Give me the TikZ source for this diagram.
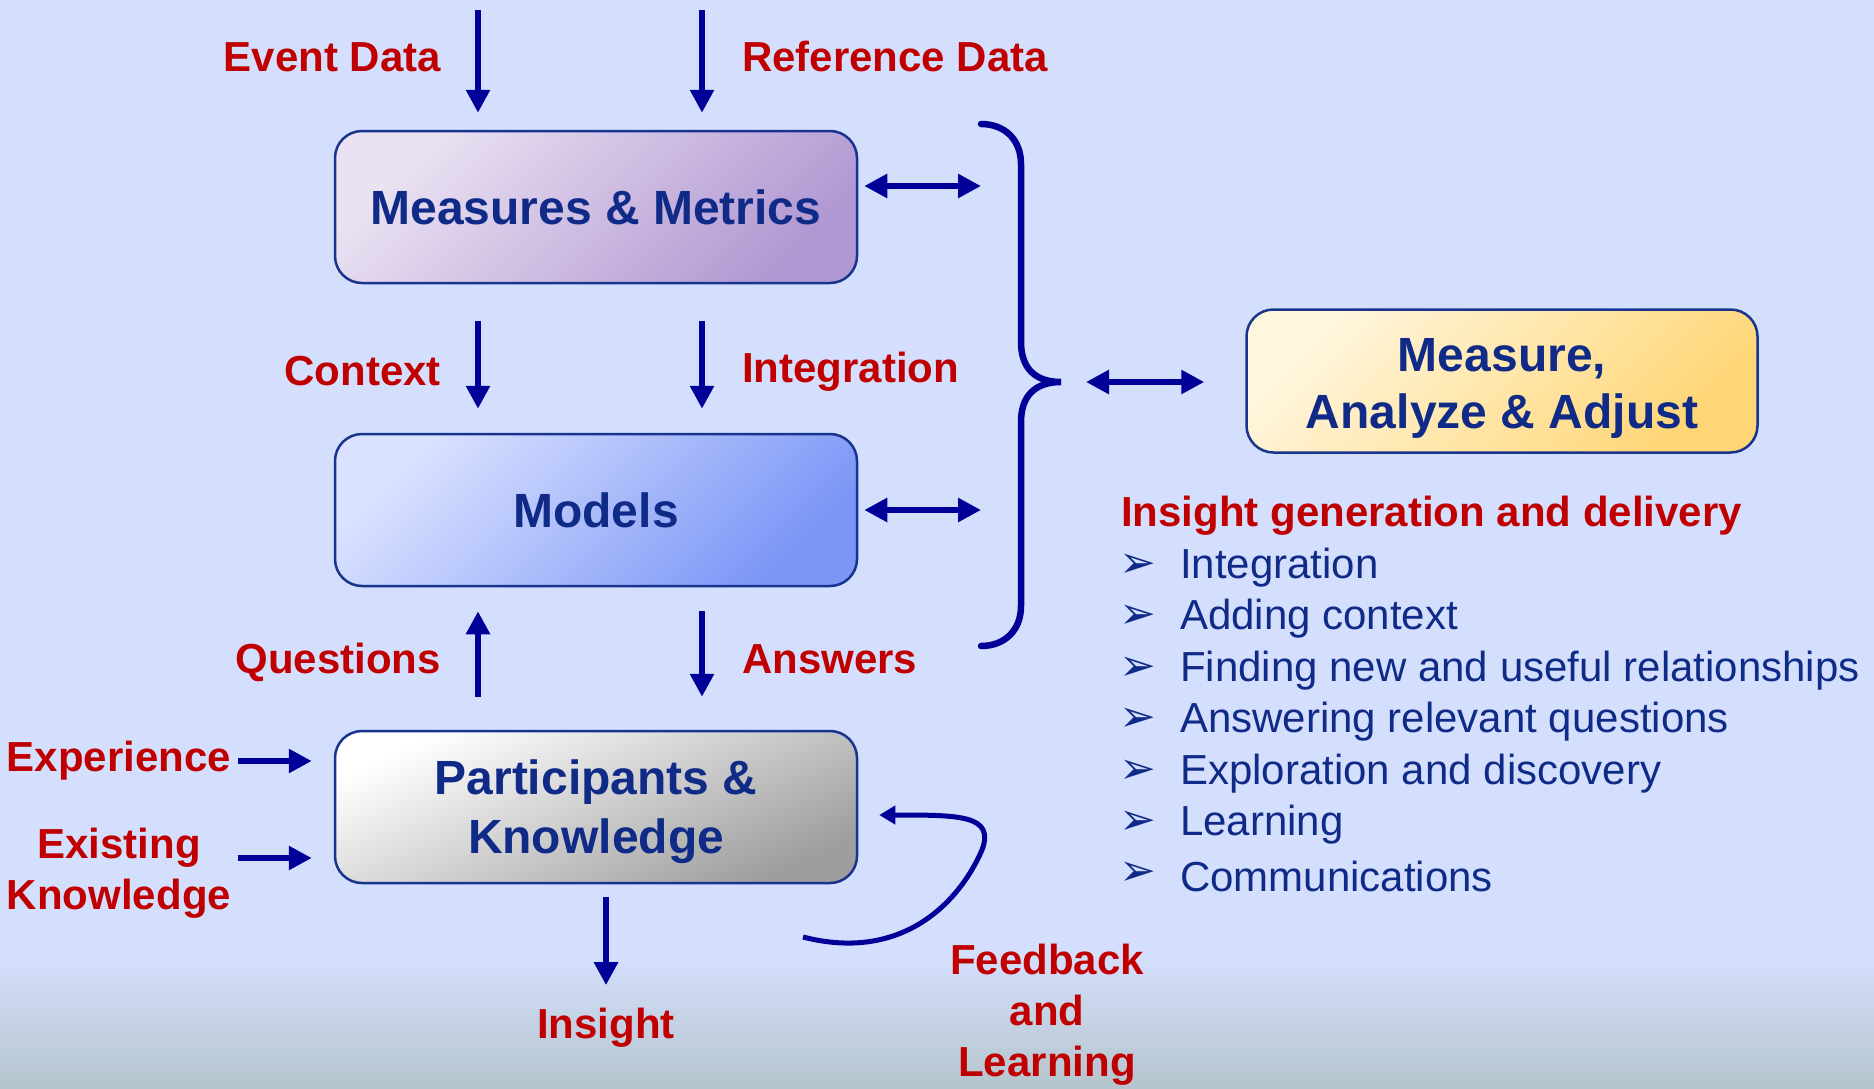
\documentclass[tikz,border=0pt]{standalone}
\usepackage{fontspec}
\setmainfont{Liberation Sans}
\newfontfamily\dingfont{DejaVu Sans}
\usepackage{tikz}
\usetikzlibrary{arrows.meta, positioning}

\definecolor{bgblue}{RGB}{212,223,253}
\definecolor{bggray}{RGB}{181,197,205}
\definecolor{navy}{RGB}{0,0,153}
\definecolor{boxtext}{RGB}{16,43,135}
\definecolor{boxline}{RGB}{24,52,140}
\definecolor{lblred}{RGB}{192,0,0}
\definecolor{mmtop}{RGB}{234,226,242}
\definecolor{mmbot}{RGB}{178,152,210}
\definecolor{modtop}{RGB}{218,226,255}
\definecolor{modbot}{RGB}{124,150,246}
\definecolor{parttop}{RGB}{255,255,255}
\definecolor{partbot}{RGB}{158,158,158}
\definecolor{maatop}{RGB}{255,246,222}
\definecolor{maabot}{RGB}{255,214,118}

\begin{document}
\begin{tikzpicture}[x=1pt,y=-1pt,node distance=300pt,on grid,
        box/.style={draw=boxline, line width=2.5pt, rounded corners=27pt,
            minimum width=522pt, minimum height=152pt, align=center, text=boxtext,
            font=\bfseries\fontsize{48}{57}\selectfont},
        boxlbl/.style={text=boxtext, inner sep=0pt, align=center,
            font=\bfseries\fontsize{48}{57}\selectfont},
        lbl/.style={text=lblred, inner sep=0pt, align=center,
            font=\bfseries\fontsize{42}{51}\selectfont},
        item/.style={text=boxtext, inner sep=0pt, anchor=west,
            font=\fontsize{42}{50}\selectfont},
        bulletpt/.style={text=boxtext, inner sep=0pt,
            font=\dingfont\fontsize{44}{44}\selectfont},
        flow/.style={draw=navy, line width=6.5pt, -{Triangle[length=23pt,width=23pt]}},
        both/.style={draw=navy, line width=6.5pt,
            {Triangle[length=23pt,width=23pt]}-{Triangle[length=23pt,width=23pt]}}]

        \fill[bgblue] (0,0) rectangle (1874,1088);
        \shade[top color=bgblue, bottom color=bggray] (0,955) rectangle (1874,1088);
        \useasboundingbox (0,0) rectangle (1874,1088);

        \node[box, top color=mmtop, bottom color=mmbot, shading angle=45]       (mm)     at (596,207)            {Measures \& Metrics};
        \node[box, top color=modtop, bottom color=modbot, shading angle=45]     (models) [below=303pt of mm]     {Models};
        \node[box, top color=parttop, bottom color=partbot, shading angle=25]   (part)   [below=297pt of models] {};
        \node[box, top color=maatop, bottom color=maabot, shading angle=45,
            minimum width=511pt, minimum height=143pt]                          (maa)    at (1502,381)           {};
        \node[boxlbl, font=\bfseries\fontsize{48}{59}\selectfont]
                                    (parttxt) at ([yshift=-5pt]part.center) {Participants \&\\Knowledge};
        \node[boxlbl]               (maatxt) at ([yshift=-7pt]maa.center)  {Measure,\\Analyze \& Adjust};

        \node[lbl, anchor=east]     (evl)    at (441,57)     {Event Data};
        \node[lbl, anchor=west]     (refl)   at (742,56)     {Reference Data};
        \node[lbl, anchor=east]     (ctx)    at (441,371)    {Context};
        \node[lbl, anchor=west]     (intg)   at (742,372)    {Integration};
        \node[lbl, anchor=east]     (qst)    at (441,662)    {Questions};
        \node[lbl, anchor=west]     (ans)    at (742,659)    {Answers};
        \node[lbl, anchor=east]     (exp)    at (231,761)    {Experience};
        \node[lbl]                  (exk)    at (119,873)    {Existing\\Knowledge};
        \node[lbl]                  (ins)    at (606,1028)   {Insight};
        \node[lbl]                  (fbl)    at (1047,1015)  {Feedback\\and\\Learning};

        \node[lbl, anchor=west]     (head)   at (1121,516)   {Insight generation and delivery};
        \node[bulletpt]             (b1)     at (1138,566)   {➢};
        \node[item]                 (i1)     at (1180,568)   {Integration};
        \node[bulletpt]             (b2)     at (1138,617)   {➢};
        \node[item]                 (i2)     at (1180,619)   {Adding context};
        \node[bulletpt]             (b3)     at (1138,669)   {➢};
        \node[item]                 (i3)     at (1180,671)   {Finding new and useful relationships};
        \node[bulletpt]             (b4)     at (1138,720)   {➢};
        \node[item]                 (i4)     at (1180,722)   {Answering relevant questions};
        \node[bulletpt]             (b5)     at (1138,772)   {➢};
        \node[item]                 (i5)     at (1180,774)   {Exploration and discovery};
        \node[bulletpt]             (b6)     at (1138,823)   {➢};
        \node[item]                 (i6)     at (1180,825)   {Learning};
        \node[bulletpt]             (b7)     at (1138,874)   {➢};
        \node[item]                 (i7)     at (1180,876)   {Communications};

        \coordinate (ev)     at (478,10);
        \coordinate (ref)    at (702,10);
        \coordinate (brtop)  at (981,124);
        \coordinate (brtip)  at (1061,382);
        \coordinate (brbot)  at (981,646);
        \coordinate (fbstart) at (803,937);

        \draw[flow, shorten >=17pt] (ev) -- (ev |- mm.north);
        \draw[flow, shorten >=17pt] (ref) -- (ref |- mm.north);
        \draw[flow, shorten <=37pt, shorten >=24pt] (ev |- mm.south) -- (ev |- models.north);
        \draw[flow, shorten <=37pt, shorten >=24pt] (ref |- mm.south) -- (ref |- models.north);
        \draw[flow, shorten <=33pt, shorten >=24pt] (ev |- part.north) -- (ev |- models.south);
        \draw[flow, shorten <=24pt, shorten >=33pt] (ref |- models.south) -- (ref |- part.north);
        \draw[flow, shorten <=7pt, shorten >=22pt] (exp.east) -- (exp.east -| part.west);
        \draw[flow, shorten <=7pt, shorten >=22pt] ([yshift=15pt]exk.east) -- ([yshift=15pt]exk.east -| part.west);
        \draw[flow, shorten <=13pt, shorten >=23pt] (ins.north |- part.south) -- (ins.north);

        \draw[both, shorten <=6pt] ([yshift=21pt]mm.east) -- ([yshift=21pt]mm.east -| brtop);
        \draw[both, shorten <=6pt] (models.east) -- (models.east -| brtop);
        \draw[both, shorten <=25pt, shorten >=41pt] (brtip) -- (brtip -| maa.west);

        \draw[navy, line width=6.5pt, line cap=round]
            (brtop) .. controls (1005,124) and (1021,140) .. (1021,164) -- (1021,342)
            .. controls (1021,368) and (1035,382) .. (brtip)
            .. controls (1035,382) and (1021,396) .. (1021,422) -- (1021,606)
            .. controls (1021,630) and (1005,646) .. (brbot);

        \draw[navy, line width=5pt, -{Triangle[length=16pt,width=18pt]}]
            (fbstart) .. controls (900,962) and (958,905) .. (982,850)
            .. controls (995,815) and (960,815) .. ([xshift=21pt,yshift=-8pt]part.east);
\end{tikzpicture}
\end{document}
